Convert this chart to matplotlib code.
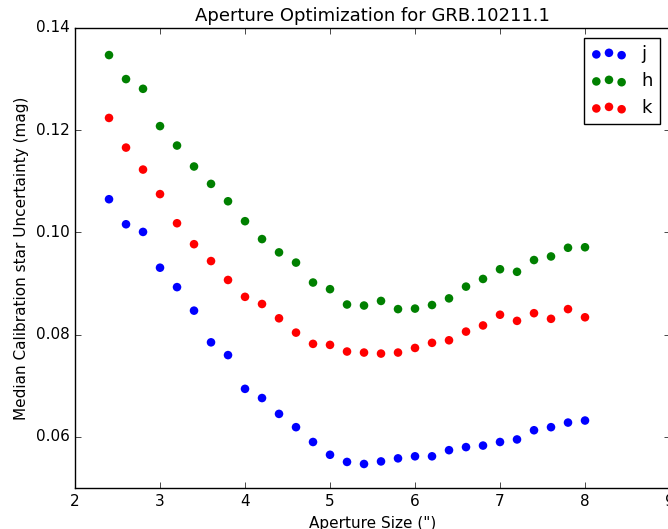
import matplotlib
matplotlib.use('Agg')
import matplotlib.pyplot as plt

plt.style.use('classic')

# aperture sizes (arcsec)
aperture = [2.4, 2.6, 2.8, 3.0, 3.2, 3.4, 3.6, 3.8, 4.0, 4.2, 4.4, 4.6, 4.8, 5.0,
            5.2, 5.4, 5.6, 5.8, 6.0, 6.2, 6.4, 6.6, 6.8, 7.0, 7.2, 7.4, 7.6, 7.8, 8.0]

# median calibration star uncertainty per band (mag)
j_unc = [0.1065, 0.1016, 0.1001, 0.0931, 0.0893, 0.0847, 0.0785, 0.0760, 0.0694,
         0.0676, 0.0645, 0.0619, 0.0590, 0.0565, 0.0551, 0.0547, 0.0552, 0.0558,
         0.0562, 0.0562, 0.0574, 0.0580, 0.0583, 0.0590, 0.0595, 0.0613, 0.0619,
         0.0628, 0.0632]
h_unc = [0.1347, 0.1300, 0.1281, 0.1208, 0.1170, 0.1129, 0.1095, 0.1061, 0.1022,
         0.0987, 0.0961, 0.0941, 0.0902, 0.0889, 0.0859, 0.0857, 0.0866, 0.0850,
         0.0851, 0.0858, 0.0871, 0.0894, 0.0909, 0.0928, 0.0923, 0.0946, 0.0953,
         0.0970, 0.0971]
k_unc = [0.1224, 0.1166, 0.1123, 0.1075, 0.1018, 0.0977, 0.0944, 0.0907, 0.0874,
         0.0860, 0.0832, 0.0804, 0.0782, 0.0780, 0.0767, 0.0765, 0.0763, 0.0765,
         0.0774, 0.0784, 0.0789, 0.0806, 0.0818, 0.0839, 0.0827, 0.0842, 0.0831,
         0.0850, 0.0834]

yticks = [0.06, 0.08, 0.10, 0.12, 0.14]
ytick_labels = ['0.06', '0.08', '0.10', '0.12', '0.14']

fig = plt.figure(figsize=(6.68, 5.29), dpi=100)
ax = fig.add_axes([0.1123, 0.0775, 0.8907, 0.8696])

ax.scatter(aperture, j_unc, s=38, c='b', edgecolors='none', label='j')
ax.scatter(aperture, h_unc, s=38, c='g', edgecolors='none', label='h')
ax.scatter(aperture, k_unc, s=38, c='r', edgecolors='none', label='k')

ax.set_xlim(2, 9)
ax.set_ylim(0.05, 0.14)
ax.set_yticks(yticks)
ax.set_yticklabels(ytick_labels)
ax.tick_params(labelsize=11)

ax.set_title('Aperture Optimization for GRB.10211.1', fontsize=13)
ax.set_xlabel('Aperture Size (")', fontsize=11)
ax.set_ylabel('Median Calibration star Uncertainty (mag)', fontsize=11)

ax.legend(loc='upper right', scatterpoints=3,
          scatteryoffsets=[0.375, 0.5, 0.3125], fontsize=13, fancybox=False,
          borderaxespad=0.55)

fig.savefig('out.png', dpi=100)
